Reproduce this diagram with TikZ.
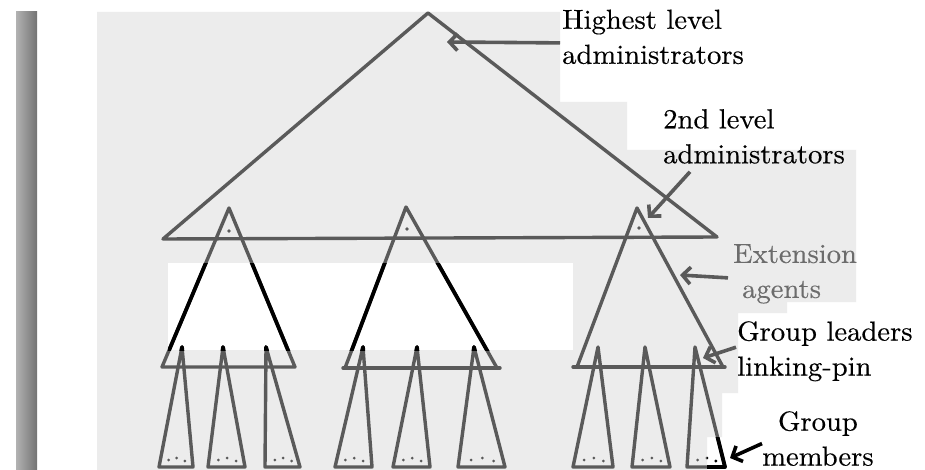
\documentclass[tikz,border=0pt]{standalone}
\usepackage{fontspec}
\usetikzlibrary{arrows.meta}
\newfontfamily\labfont[FakeStretch=1.04,FakeBold=0.35]{lmroman10-regular.otf}
\definecolor{scan}{RGB}{236,236,236}
\definecolor{ink}{RGB}{90,90,90}
\definecolor{lbl}{RGB}{108,108,108}
\newcommand\pyramids[2]{%
  \begin{scope}[color=#1, line width=#2, line join=round, line cap=round]
    % highest level
    \draw (428,13) -- (163,239) -- (717,237) -- cycle;
    % second level
    \draw (229,208) -- (162,367) -- (295,367) -- cycle;
    \draw (406,207) -- (345,368) -- (497,368) -- cycle;
    \draw (343,368) -- (500,368);
    \draw (637,208) -- (577,367) -- (723,367) -- cycle;
    \draw (573,367) -- (725,367);
    \fill (229,231) circle[radius=1.9pt];
    \fill (407,229) circle[radius=1.9pt];
    \fill (639,228) circle[radius=1.9pt];
    % group triangles
    \foreach \a/\l/\r in {182/159/193, 223/208/245, 266/265/300,
                         363/335/372, 417/393/430, 474/458/505,
                         598/573/613, 645/632/670, 695/687/725}{
      \draw (\a,347) -- (\l,467) -- (\r,467) -- cycle;
      \fill ({\l+0.28*(\r-\l)},460) circle[radius=1.5pt];
      \fill ({\l+0.52*(\r-\l)},458) circle[radius=1.5pt];
      \fill ({\l+0.76*(\r-\l)},461) circle[radius=1.5pt];
    }
  \end{scope}}
\begin{document}
\begin{tikzpicture}[x=1pt,y=-1pt,
  pointer/.style={draw=ink, line width=3.6pt,
    -{Straight Barb[length=8pt,width=17pt,line width=3.6pt]}},
  lab/.style={inner sep=0pt, anchor=north west, align=left,
    font=\labfont\fontsize{27.5}{35}\selectfont},
]
\useasboundingbox (0,0) rectangle (925,470);
\fill[white] (0,0) rectangle (925,470);
% page edge
\shade[left color=black!30, right color=black!55] (16,12) rectangle (37,470);
% scanned area
\fill[scan] (97,12) -- (560,12) -- (560,102) -- (627,102) -- (627,150)
  -- (856,150) -- (856,302) -- (787,302) -- (787,313) -- (738,313)
  -- (738,393) -- (722,393) -- (722,437) -- (707,437) -- (707,470)
  -- (97,470) -- cycle;
\fill[white] (168,263) rectangle (573,350);
% drawing in grey
\pyramids{ink}{3.4pt}
% parts redrawn in black on the white patches
\begin{scope}
  \clip (168,263) rectangle (573,350);
  \pyramids{black}{3.8pt}
\end{scope}
\begin{scope}
  \clip (707,437) rectangle (925,470);
  \pyramids{black}{3.8pt}
\end{scope}
% labels
\node[lab] (hl) at (562,9.5) {Highest level\\administrators};
\node[lab] (sl) at (663,109) {2nd level\\administrators};
\node[lab, text=lbl] (ea) at (733,244) {Extension\\\hspace*{9pt}agents};
\node[lab] (gl) at (737,321) {Group leaders\\linking-pin};
\node[lab, align=center] (gm) at (762,411) {Group\\members};
% arrow tips
\coordinate (tH) at (447,42);
\coordinate (tS) at (648,218);
\coordinate (tE) at (680,275);
\coordinate (tG) at (703,358);
\coordinate (tM) at (730,458);
% arrows
\draw[pointer] ([xshift=-2pt,yshift=-6pt]hl.west) -- (tH);
\draw[pointer] ([xshift=27pt,yshift=-8pt]sl.south west) -- (tS);
\draw[pointer] ([xshift=-5pt,yshift=-4pt]ea.west) -- (tE);
\draw[pointer] ([xshift=-1pt,yshift=4pt]gl.west) -- (tG);
\draw[pointer, draw=black] ([yshift=-5pt]gm.west) -- (tM);
\end{tikzpicture}
\end{document}
